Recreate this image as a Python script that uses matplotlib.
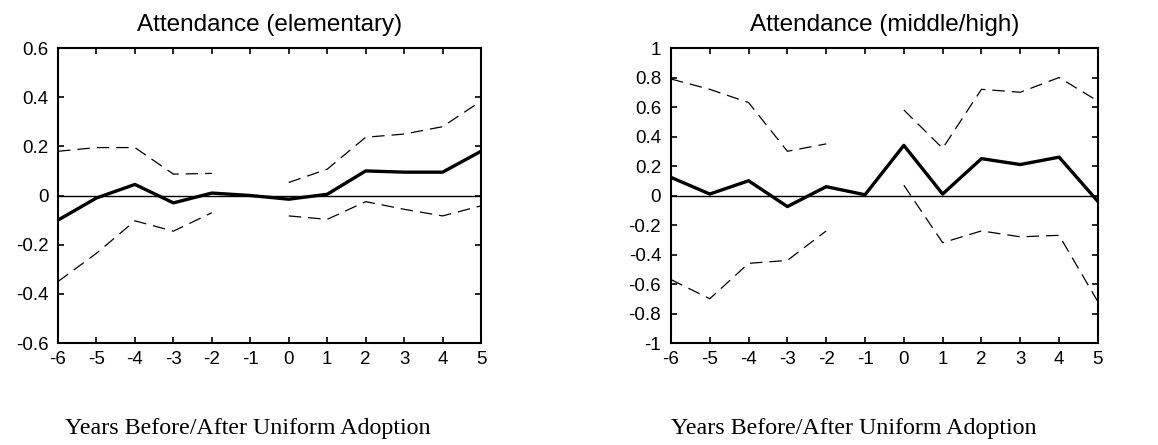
import numpy as np
import matplotlib
matplotlib.use("Agg")
import matplotlib.pyplot as plt

# years relative to uniform adoption
years = [-6, -5, -4, -3, -2, -1, 0, 1, 2, 3, 4, 5]

# elementary attendance: estimate and confidence band (no band at -1)
elem_est = [-0.10, -0.01, 0.045, -0.03, 0.01, 0.0, -0.015, 0.005, 0.10, 0.095, 0.095, 0.18]
elem_hi = [0.18, 0.195, 0.195, 0.087, 0.09, np.nan, 0.053, 0.107, 0.237, 0.25, 0.28, 0.384]
elem_lo = [-0.35, -0.235, -0.103, -0.145, -0.07, np.nan, -0.083, -0.097, -0.025, -0.056, -0.083, -0.042]

# middle/high attendance
mid_est = [0.123, 0.01, 0.10, -0.075, 0.06, 0.005, 0.34, 0.01, 0.25, 0.21, 0.26, -0.04]
mid_hi = [0.79, 0.72, 0.63, 0.30, 0.35, np.nan, 0.58, 0.32, 0.72, 0.70, 0.80, 0.64]
mid_lo = [-0.57, -0.70, -0.46, -0.44, -0.24, np.nan, 0.07, -0.32, -0.24, -0.28, -0.27, -0.72]

titles = ["Attendance (elementary)", "Attendance (middle/high)"]
xlabel = "Years Before/After Uniform Adoption"
elem_yticks = [-0.6, -0.4, -0.2, 0, 0.2, 0.4, 0.6]
mid_yticks = [-1, -0.8, -0.6, -0.4, -0.2, 0, 0.2, 0.4, 0.6, 0.8, 1]

plt.rcParams['font.family'] = ['Liberation Sans', 'DejaVu Sans']
plt.rcParams['lines.scale_dashes'] = False

fig = plt.figure(figsize=(11.58, 4.45), dpi=100)
ax1 = fig.add_axes([0.0501, 0.2292, 0.3653, 0.6629])
ax2 = fig.add_axes([0.5794, 0.2292, 0.3687, 0.6629])


def draw(ax, est, hi, lo, yticks, title):
    ax.axhline(0, color='black', lw=1.0, zorder=1)
    ax.plot(years, hi, color='black', lw=0.9, dashes=(9, 5), zorder=2)
    ax.plot(years, lo, color='black', lw=0.9, dashes=(9, 5), zorder=2)
    ax.plot(years, est, color='black', lw=2.4, zorder=3)
    ax.set_xlim(-6, 5)
    ax.set_ylim(yticks[0], yticks[-1])
    ax.set_xticks(years)
    ax.set_xticklabels([str(y) for y in years])
    ax.set_yticks(yticks)
    ax.set_yticklabels(["%g" % v for v in yticks])
    ax.tick_params(direction='in', length=4, width=1.2, top=True, right=True,
                   labelsize=13.5, colors='black')
    ax.tick_params(axis='y', pad=7)
    ax.tick_params(axis='x', pad=6)
    for sp in ax.spines.values():
        sp.set_linewidth(1.5)
    ax.set_title(title, fontsize=17.5, pad=12)


draw(ax1, elem_est, elem_hi, elem_lo, elem_yticks, titles[0])
draw(ax2, mid_est, mid_hi, mid_lo, mid_yticks, titles[1])

fig.text(0.214, 0.036, xlabel, ha='center', va='center',
         family='Liberation Serif', fontsize=17.3)
fig.text(0.737, 0.036, xlabel, ha='center', va='center',
         family='Liberation Serif', fontsize=17.3)

fig.savefig('out.png', dpi=100)
